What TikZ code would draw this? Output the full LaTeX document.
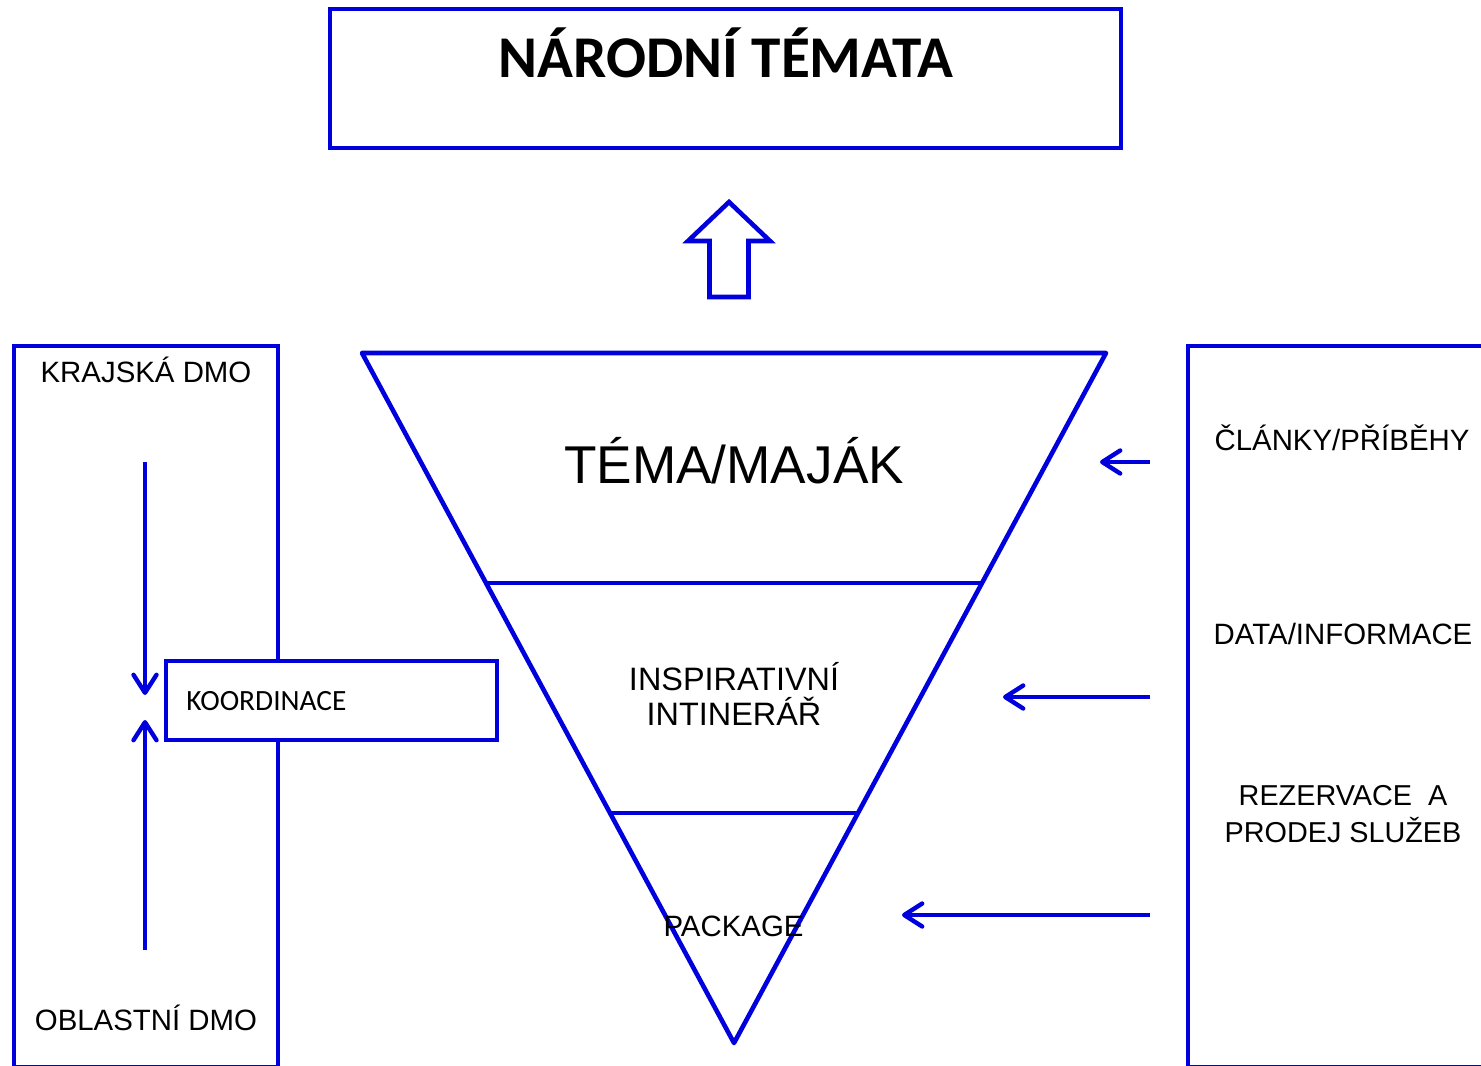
\documentclass[tikz,border=0pt]{standalone}
\usepackage{fontspec}
\setmainfont{Liberation Sans}
\newfontfamily\calfont{Carlito}
\usetikzlibrary{arrows.meta}
\definecolor{diagblue}{RGB}{0,0,221}
\begin{document}
\begin{tikzpicture}[x=0.5pt,y=-0.5pt,
  outline/.style={draw=diagblue,line width=2.3pt},
  flow/.style={draw=diagblue,line width=2.2pt,-{Straight Barb[length=9pt,width=11.5pt,round]}},
  lbl/.style={inner sep=0pt,anchor=base,font=\fontsize{14.7pt}{17pt}\selectfont},
  twoline/.style={lbl,align=center},
]
\useasboundingbox (0,0) rectangle (1481,1065);
\clip (0,0) rectangle (1481,1065);

% national themes box and title
\draw[outline] (330,9) rectangle (1121,148);
\node[inner sep=0pt,anchor=base,font=\calfont\bfseries\fontsize{29.6pt}{34pt}\selectfont]
  (title) at (726,78) {NÁRODNÍ TÉMATA};

% hollow block arrow pointing up
\draw[outline,line join=miter]
  (709.5,297) -- (709.5,241) -- (688,241) -- (729,202) -- (770,241)
  -- (748.5,241) -- (748.5,297) -- cycle;

% left column: regional and area DMOs (bottom edge runs off the page)
\draw[outline] (14,346) rectangle (278,1067.5);
\node[lbl] (kraj) at (146,382.7) {KRAJSKÁ DMO};
\node[lbl] (oblast) at (146,1030.7) {OBLASTNÍ DMO};

% coordination box overlapping the left column
\draw[outline,fill=white] (166,661) rectangle (497,740);
\node[inner sep=0pt,anchor=base west,font=\calfont\fontsize{14.7pt}{17pt}\selectfont]
  (koord) at (186,710) {KOORDINACE};

\coordinate (downstart) at (145,462);
\coordinate (downend) at (145,695);
\coordinate (upstart) at (145,950);
\coordinate (upend) at (145,720);
\draw[flow] (downstart) -- (downend);
\draw[flow] (upstart) -- (upend);

% inverted funnel
\coordinate (ftl) at (362,353);
\coordinate (ftr) at (1106,353);
\coordinate (fap) at (734,1043);
\coordinate (d1l) at (486,583);
\coordinate (d1r) at (982,583);
\coordinate (d2l) at (610,813);
\coordinate (d2r) at (858,813);
\draw[outline,line join=round] (ftl) -- (ftr) -- (fap) -- cycle;
\draw[outline] (d1l) -- (d1r);
\draw[outline] (d2l) -- (d2r);

\node[lbl,font=\fontsize{26.6pt}{30pt}\selectfont] (tema) at (734,483.3) {TÉMA/MAJÁK};
% multi-line nodes are anchored at the baseline of their last line
\node[twoline,font=\fontsize{16.2pt}{17.15pt}\selectfont] (itin) at (734,725) {INSPIRATIVNÍ\\INTINERÁŘ};
\node[lbl] (pkg) at (733.5,936.7) {PACKAGE};

% right column: inputs (right and bottom edges run off the page)
\draw[outline] (1188,346) rectangle (1500,1067.5);
\node[lbl] (clanky) at (1342,450) {ČLÁNKY/PŘÍBĚHY};
\node[lbl] (data) at (1343,644) {DATA/INFORMACE};
\node[twoline,font=\fontsize{14.4pt}{18.85pt}\selectfont] (rez) at (1343,842.7) {REZERVACE\ \ A\\PRODEJ SLUŽEB};

\coordinate (in1) at (1150,462);
\coordinate (out1) at (1100,462);
\coordinate (in2) at (1150,697);
\coordinate (out2) at (1003,697);
\coordinate (in3) at (1150,915);
\coordinate (out3) at (902,915);
\draw[flow] (in1) -- (out1);
\draw[flow] (in2) -- (out2);
\draw[flow] (in3) -- (out3);
\end{tikzpicture}
\end{document}
